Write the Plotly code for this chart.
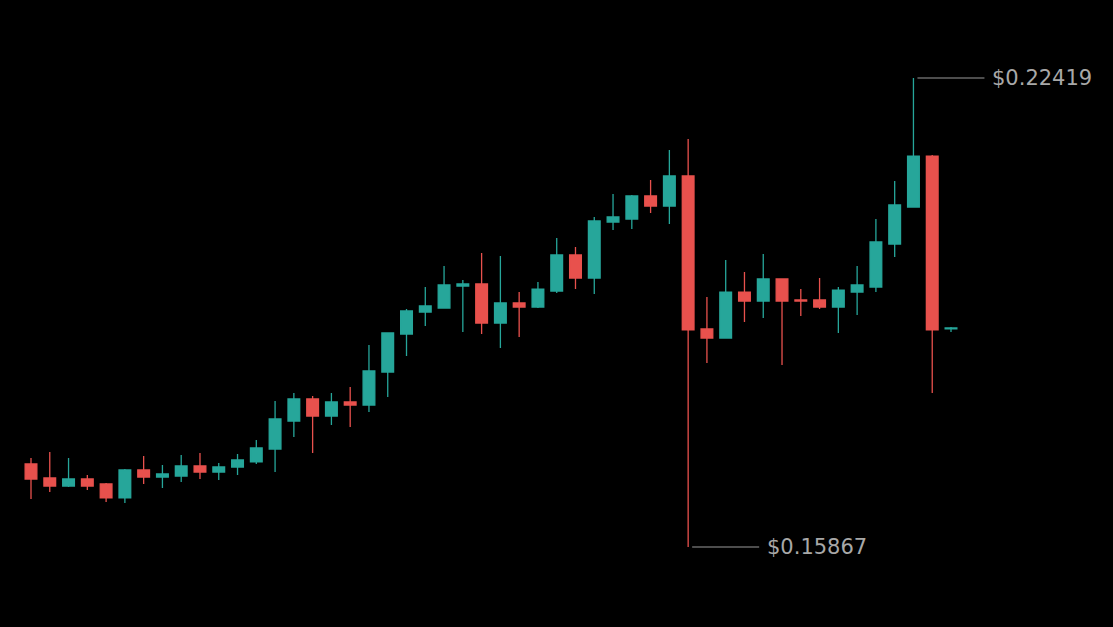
import plotly.graph_objects as go

# --- Kerzendaten (Preis in USD) ---
bar_index = list(range(50))
open_px = [
    0.17027, 0.16831, 0.16719, 0.16817, 0.16747, 0.16552, 0.16943, 0.16845, 0.16859, 0.16999,
    0.16915, 0.16985, 0.17055, 0.17236, 0.17627, 0.17935, 0.17697, 0.17893, 0.17851, 0.18312,
    0.18843, 0.19150, 0.19206, 0.19513, 0.19541, 0.18996, 0.19276, 0.19220, 0.19443, 0.19946,
    0.19625, 0.20407, 0.20449, 0.20771, 0.20631, 0.21050, 0.18913, 0.18787, 0.19429, 0.19304,
    0.19611, 0.19318, 0.19318, 0.19220, 0.19429, 0.19499, 0.20100, 0.20617, 0.21329, 0.18913,
]
high_px = [
    0.17110, 0.17194, 0.17110, 0.16873, 0.16761, 0.16957, 0.17138, 0.17013, 0.17152, 0.17180,
    0.17041, 0.17166, 0.17362, 0.17907, 0.18018, 0.17977, 0.18018, 0.18102, 0.18689, 0.18857,
    0.19192, 0.19499, 0.19793, 0.19597, 0.19974, 0.19932, 0.19429, 0.19569, 0.20184, 0.20058,
    0.20477, 0.20799, 0.20785, 0.20994, 0.21413, 0.21567, 0.19360, 0.19876, 0.19709, 0.19960,
    0.19611, 0.19471, 0.19625, 0.19499, 0.19793, 0.20449, 0.20980, 0.22419, 0.21343, 0.18941,
]
low_px = [
    0.16538, 0.16635, 0.16705, 0.16663, 0.16496, 0.16482, 0.16747, 0.16691, 0.16775, 0.16817,
    0.16803, 0.16873, 0.17027, 0.16915, 0.17404, 0.17180, 0.17572, 0.17544, 0.17753, 0.17963,
    0.18535, 0.18955, 0.19206, 0.18871, 0.18843, 0.18647, 0.18801, 0.19206, 0.19416, 0.19471,
    0.19402, 0.20296, 0.20310, 0.20533, 0.20379, 0.15867, 0.18438, 0.18787, 0.19010, 0.19066,
    0.18410, 0.19094, 0.19192, 0.18857, 0.19108, 0.19429, 0.19918, 0.20617, 0.18018, 0.18871,
]
close_px = [
    0.16817, 0.16719, 0.16817, 0.16719, 0.16552, 0.16943, 0.16845, 0.16887, 0.16999, 0.16915,
    0.16985, 0.17083, 0.17250, 0.17655, 0.17935, 0.17697, 0.17893, 0.17851, 0.18326, 0.18857,
    0.19164, 0.19234, 0.19527, 0.19541, 0.18996, 0.19276, 0.19220, 0.19471, 0.19946, 0.19625,
    0.20421, 0.20477, 0.20771, 0.20631, 0.21050, 0.18899, 0.18787, 0.19429, 0.19304, 0.19611,
    0.19304, 0.19304, 0.19220, 0.19457, 0.19527, 0.20128, 0.20645, 0.21329, 0.18899, 0.18927,
]

# --- Extremwerte ---
i_max = high_px.index(max(high_px))
i_min = low_px.index(min(low_px))

fig = go.Figure(
    go.Candlestick(
        x=bar_index,
        open=open_px,
        high=high_px,
        low=low_px,
        close=close_px,
        increasing=dict(line=dict(color="#26a69a", width=1.3), fillcolor="#26a69a"),
        decreasing=dict(line=dict(color="#e8514d", width=1.3), fillcolor="#e8514d"),
        showlegend=False,
    )
)

label_font = dict(family="DejaVu Sans", size=21, color="#a8a8a8")
for idx, val in [(i_max, high_px[i_max]), (i_min, low_px[i_min])]:
    fig.add_annotation(
        x=idx,
        y=val,
        text=f"${val:.5f}",
        showarrow=True,
        arrowhead=0,
        arrowwidth=1.2,
        arrowcolor="#9a9a9a",
        ax=77,
        ay=0,
        standoff=4,
        startstandoff=6,
        xanchor="left",
        yanchor="middle",
        font=label_font,
    )

fig.update_layout(
    width=1113,
    height=627,
    margin=dict(l=0, r=0, t=0, b=0),
    paper_bgcolor="black",
    plot_bgcolor="black",
    boxgap=0.2,
    boxgroupgap=0.22,
    xaxis=dict(
        visible=False,
        range=[-1.651, 57.628],
        rangeslider=dict(visible=False),
    ),
    yaxis=dict(visible=False, range=[0.147495, 0.235087]),
)

# Seitenrand entfernen, damit die Grafik das ganze Fenster füllt
fig.write_html(
    "out.html",
    config={"displayModeBar": False},
    post_script="document.body.style.margin='0';document.body.style.background='black';document.body.style.overflow='hidden';",
)
